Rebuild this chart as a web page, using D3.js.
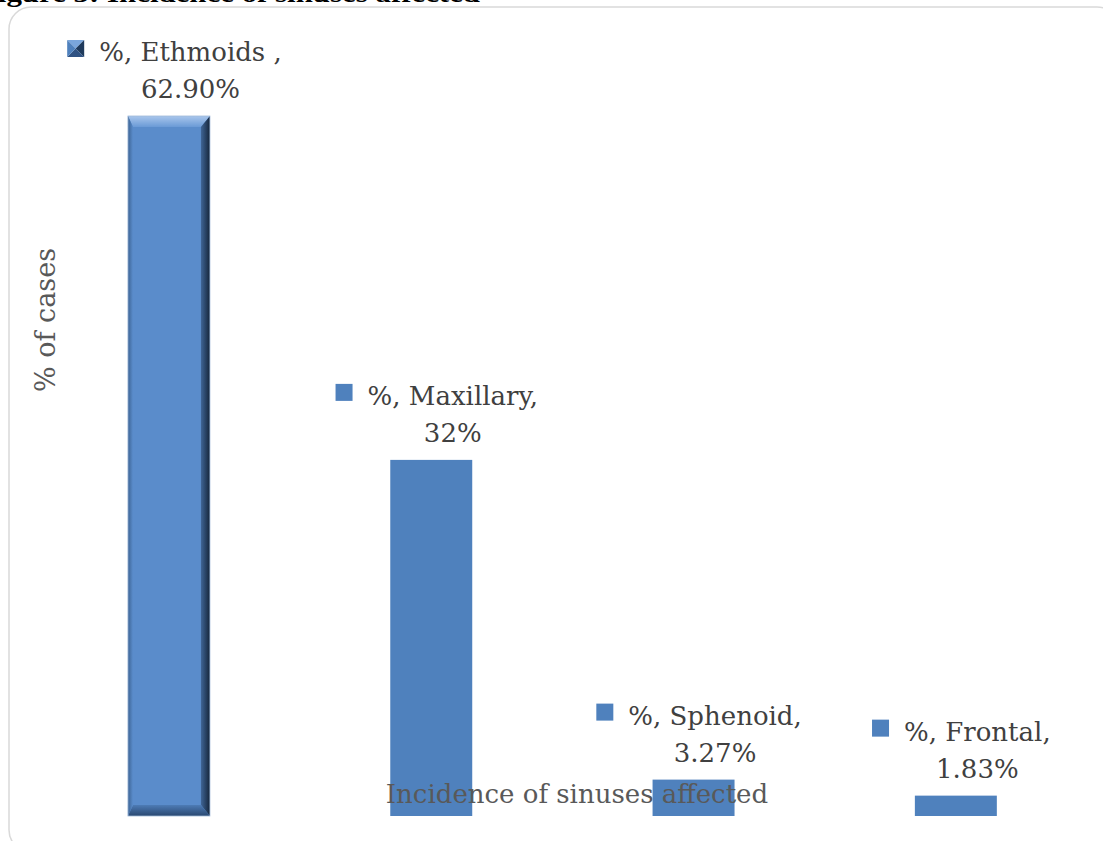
<!DOCTYPE html>
<html><head><meta charset="utf-8">
<script src="https://cdn.jsdelivr.net/npm/d3@7"></script>
<style>html,body{margin:0;padding:0;background:#fff;overflow:hidden}</style>
</head><body><svg id="c" width="1103" height="841"></svg>
<script>
const categories = ["Ethmoids", "Maxillary", "Sphenoid", "Frontal"];
const values = [62.90, 32, 3.27, 1.83];
const valueLabels = ["62.90%", "32%", "3.27%", "1.83%"];
const nameLabels = ["%, Ethmoids ,", "%, Maxillary,", "%, Sphenoid,", "%, Frontal,"];

const svg = d3.select("#c");
const font = "'DejaVu Serif', 'Liberation Serif', serif";
const titleFont = "'Liberation Serif', serif";

// chart frame
svg.append("rect").attr("x", 9).attr("y", 7).attr("width", 1110).attr("height", 845)
  .attr("rx", 22).attr("fill", "#fff").attr("stroke", "#d9d9d9").attr("stroke-width", 1.5);

// clipped title
svg.append("text").attr("x", -21).attr("y", 2).attr("font-family", titleFont)
  .attr("font-weight", "bold").attr("font-size", 26).attr("fill", "#000")
  .attr("textLength", 501).attr("lengthAdjust", "spacingAndGlyphs")
  .text("Figure 3: Incidence of sinuses affected");

const x = d3.scaleBand().domain(categories).range([37.8, 1087]).paddingInner(0.6875).paddingOuter(0.34375);
const y = d3.scaleLinear().domain([0, 70]).range([816, 37]);

const defs = svg.append("defs");
const gTop = defs.append("linearGradient").attr("id", "gTop").attr("x1", 0).attr("y1", 0).attr("x2", 0).attr("y2", 1);
gTop.append("stop").attr("offset", 0).attr("stop-color", "#a9c6ec");
gTop.append("stop").attr("offset", 1).attr("stop-color", "#6a9ad6");
const gRight = defs.append("linearGradient").attr("id", "gRight").attr("x1", 0).attr("y1", 0).attr("x2", 1).attr("y2", 0);
gRight.append("stop").attr("offset", 0).attr("stop-color", "#3f6596");
gRight.append("stop").attr("offset", 1).attr("stop-color", "#15253a");
const gBot = defs.append("linearGradient").attr("id", "gBot").attr("x1", 0).attr("y1", 0).attr("x2", 0).attr("y2", 1);
gBot.append("stop").attr("offset", 0).attr("stop-color", "#4d7bb5");
gBot.append("stop").attr("offset", 1).attr("stop-color", "#2a4870");
const gLeft = defs.append("linearGradient").attr("id", "gLeft").attr("x1", 0).attr("y1", 0).attr("x2", 1).attr("y2", 0);
gLeft.append("stop").attr("offset", 0).attr("stop-color", "#3d6494");
gLeft.append("stop").attr("offset", 1).attr("stop-color", "#5a8ccb");

const data = categories.map((c, i) => ({ c, v: values[i], lab: valueLabels[i], name: nameLabels[i], i }));

// bars
data.forEach(d => {
  const x0 = x(d.c), x1 = x0 + x.bandwidth(), y0 = y(d.v), y1 = y(0);
  if (d.i === 0) {
    const bt = 11, br = 9, bb = 11, bl = 5;
    svg.append("rect").attr("x", x0).attr("y", y0).attr("width", x1 - x0).attr("height", y1 - y0).attr("fill", "#5a8ccb");
    const poly = (pts, fill) => svg.append("polygon").attr("points", pts.map(p => p.join(",")).join(" ")).attr("fill", fill);
    poly([[x0, y0], [x1, y0], [x1 - br, y0 + bt], [x0 + bl, y0 + bt]], "url(#gTop)");
    poly([[x1, y0], [x1, y1], [x1 - br, y1 - bb], [x1 - br, y0 + bt]], "url(#gRight)");
    poly([[x0, y1], [x1, y1], [x1 - br, y1 - bb], [x0 + bl, y1 - bb]], "url(#gBot)");
    poly([[x0, y0], [x0 + bl, y0 + bt], [x0 + bl, y1 - bb], [x0, y1]], "url(#gLeft)");
    svg.append("rect").attr("x", x0).attr("y", y0).attr("width", x1 - x0).attr("height", y1 - y0)
      .attr("fill", "none").attr("stroke", "#9fb8d8").attr("stroke-width", 0.8);
  } else {
    svg.append("rect").attr("x", x0).attr("y", y0).attr("width", x1 - x0).attr("height", y1 - y0).attr("fill", "#4f81bd");
  }
});

// axis titles
svg.append("text").attr("transform", "translate(55,320) rotate(-90)").attr("text-anchor", "middle")
  .attr("font-family", font).attr("font-size", 27).attr("fill", "#595959").text("% of cases");
svg.append("text").attr("x", 577).attr("y", 803).attr("text-anchor", "middle")
  .attr("font-family", font).attr("font-size", 26).attr("fill", "#595959").text("Incidence of sinuses affected");

// data labels
data.forEach(d => {
  const cx = x(d.c) + x.bandwidth() / 2 + 5.5;
  const yb2 = y(d.v) - 18, yb1 = yb2 - 37;
  const g = svg.append("g");
  const t1 = g.append("text").attr("y", yb1).attr("font-family", font).attr("font-size", 26)
    .attr("fill", "#404040").text(d.name);
  const w = t1.node().getComputedTextLength();
  const key = 17, gap = 15;
  const total = key + gap + w;
  const left = cx - total / 2;
  t1.attr("x", left + key + gap);
  const tc = left + key + gap + w / 2;
  g.append("text").attr("x", tc).attr("y", yb2).attr("text-anchor", "middle").attr("font-family", font)
    .attr("font-size", 26).attr("fill", "#404040").text(d.lab);
  const ky = yb1 - 4 - key;
  if (d.i === 0) {
    const k0 = left, k1 = left + key, m = key / 2;
    const P = (pts, f) => g.append("polygon").attr("points", pts.map(p => p.join(",")).join(" ")).attr("fill", f);
    P([[k0, ky], [k1, ky], [k0 + m, ky + m]], "#7aa6dc");
    P([[k1, ky], [k1, ky + key], [k0 + m, ky + m]], "#1f3a5c");
    P([[k0, ky + key], [k1, ky + key], [k0 + m, ky + m]], "#2f5283");
    P([[k0, ky], [k0, ky + key], [k0 + m, ky + m]], "#4f81bd");
  } else {
    g.append("rect").attr("x", left).attr("y", ky).attr("width", key).attr("height", key).attr("fill", "#4f81bd");
  }
});
</script></body></html>
